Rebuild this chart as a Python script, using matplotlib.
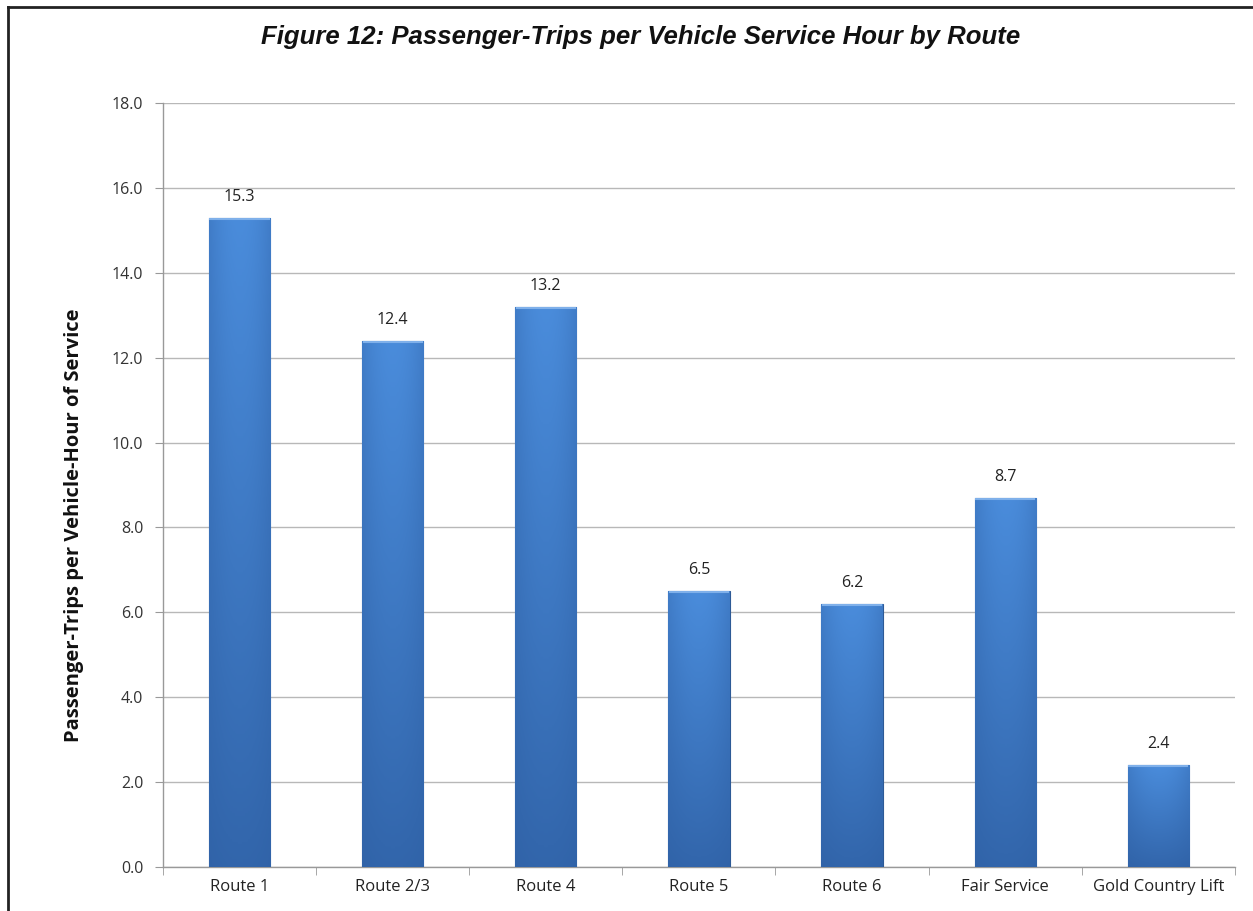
import matplotlib
matplotlib.use("Agg")
import matplotlib.pyplot as plt
import numpy as np
from matplotlib.lines import Line2D
from matplotlib.colors import LinearSegmentedColormap

routes = ["Route 1", "Route 2/3", "Route 4", "Route 5", "Route 6", "Fair Service", "Gold Country Lift"]
values = [15.3, 12.4, 13.2, 6.5, 6.2, 8.7, 2.4]
yticks = [0, 2, 4, 6, 8, 10, 12, 14, 16, 18]

fig = plt.figure(figsize=(12.53, 9.11), dpi=100)
ax = fig.add_axes([0.130, 0.0483, 0.8556, 0.8387])

x = np.arange(len(routes))
bars = ax.bar(x, values, width=0.4, color="#3b74c0", edgecolor="#2d5a96", linewidth=0.8, zorder=3)

# gradient overlay for each bar
grad_v = np.linspace(1, 0, 256).reshape(-1, 1)
grad_h = 1 - 0.35 * np.abs(np.linspace(-1, 1, 64)).reshape(1, -1) ** 2
cmap = LinearSegmentedColormap.from_list("b", ["#2e5fa3", "#4a8cdb"])
for b in bars:
    x0, w, h = b.get_x(), b.get_width(), b.get_height()
    img = grad_v * 0.85 * grad_h + 0.15 * grad_h
    im = ax.imshow(img, extent=[x0, x0 + w, 0, h], aspect="auto", cmap=cmap,
                   vmin=0, vmax=1, zorder=3.5, origin="upper")
    im.set_clip_path(b)
    ax.add_line(Line2D([x0 + 0.01, x0 + w - 0.01], [h - 0.03, h - 0.03],
                       color="#7fb0ea", linewidth=1.5, zorder=4))

for xi, v in zip(x, values):
    ax.text(xi, v + 0.3, f"{v:.1f}", ha="center", va="bottom", fontsize=11.5,
            family="Open Sans", color="#222222", zorder=5)

ax.set_xlim(-0.5, len(routes) - 0.5)
ax.set_ylim(0, 18)
ax.set_yticks(yticks)
ax.set_yticklabels([f"{t:.1f}" for t in yticks], fontsize=11.5, family="Open Sans", color="#333333")
ax.yaxis.grid(True, color="#b8b8b8", linewidth=1.0, zorder=0)
ax.set_axisbelow(True)

ax.set_xticks(x)
ax.set_xticklabels(routes, fontsize=12, family="Open Sans", color="#222222")
ax.tick_params(axis="x", length=0, pad=9)
ax.set_xticks(np.arange(-0.5, len(routes)), minor=True)
ax.tick_params(axis="x", which="minor", length=6, color="#999999", direction="out")
ax.tick_params(axis="y", length=6, color="#999999", direction="out", pad=8)

for s in ["top", "right"]:
    ax.spines[s].set_visible(False)
for s in ["left", "bottom"]:
    ax.spines[s].set_color("#999999")
    ax.spines[s].set_linewidth(1.0)

fig.text(0.059, 0.423, "Passenger-Trips per Vehicle-Hour of Service", rotation=90,
         ha="center", va="center", fontsize=14.5, fontweight="bold", family="Open Sans", color="#111111")

fig.text(0.511, 0.959, "Figure 12: Passenger-Trips per Vehicle Service Hour by Route",
         ha="center", va="center", fontsize=18.5, fontweight="bold", fontstyle="italic",
         family="Liberation Sans", color="#111111")

# figure border (left and top)
fig.add_artist(Line2D([0.006, 0.006], [0.0, 0.9925], transform=fig.transFigure, color="#222222", linewidth=2))
fig.add_artist(Line2D([0.006, 1.0], [0.9925, 0.9925], transform=fig.transFigure, color="#222222", linewidth=2))

fig.savefig("out.png", dpi=100)
